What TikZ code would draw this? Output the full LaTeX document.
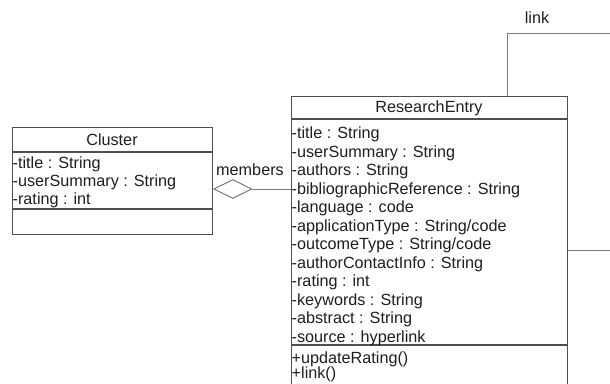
\documentclass[tikz,border=0pt]{standalone}
\usepackage{fontspec}
\setmainfont{Liberation Sans}
\usetikzlibrary{shapes.geometric}
\definecolor{edge}{HTML}{505050}
\definecolor{conn}{HTML}{7A7A7A}
\definecolor{ink}{HTML}{1E1E1E}
\begin{document}
\begin{tikzpicture}[x=1pt, y=-1pt,
  font=\fontsize{16.2}{18}\selectfont,
  classbox/.style={draw=edge, line width=1.3pt, inner sep=0pt, anchor=north west},
  sepline/.style={draw=edge, line width=1.1pt},
  row/.style={anchor=base west, inner sep=0pt, text=ink},
  title/.style={inner sep=0pt, text=ink},
  conn/.style={draw=conn, line width=1pt}]
\useasboundingbox (0,0) rectangle (610,383);
\clip (0,0) rectangle (610,383);

% ---- Cluster ----
\node[classbox, minimum width=200pt, minimum height=107pt] (cluster) at (12,127) {};
\draw[sepline] ([yshift=-25pt]cluster.north west) -- ([yshift=-25pt]cluster.north east);
\draw[sepline] ([yshift=-82pt]cluster.north west) -- ([yshift=-82pt]cluster.north east);
\node[title] (clustername) at (112,140) {Cluster};
\foreach \t [count=\i] in {-title : String, -userSummary : String, -rating : int}
  \node[row] (ca\i) at (12.5, {163+18*(\i-1)+5.5}) {\t};

% ---- ResearchEntry ----
\node[classbox, minimum width=276pt, minimum height=300pt] (re) at (291,96) {};
\draw[sepline] ([yshift=-23pt]re.north west) -- ([yshift=-23pt]re.north east);
\draw[sepline] ([yshift=-249pt]re.north west) -- ([yshift=-249pt]re.north east);
\node[title] (rename) at (429,108) {ResearchEntry};
\foreach \t [count=\i] in {-title : String, -userSummary : String, -authors : String,
    -bibliographicReference : String, -language : code, -applicationType : String/code,
    -outcomeType : String/code, -authorContactInfo : String, -rating : int,
    -keywords : String, -abstract : String, -source : hyperlink}
  \node[row] (ra\i) at (291.5, {133+18.5*(\i-1)+5.5}) {\t};
\node[row] (rm1) at (291.5, {357.5+5.5}) {+updateRating()};
\node[row] (rm2) at (291.5, {373+5}) {+link()};

% ---- aggregation: members ----
\coordinate (aggy) at (0,189);
\node[diamond, conn, fill=white, aspect=2, minimum width=38pt, minimum height=19pt,
      inner sep=0pt, anchor=west] (agg) at (cluster.east |- aggy) {};
\draw[conn] (agg.east) -- (re.west |- agg.east);
\node[title] (members) at (250,170) {members};

% ---- link association ----
\coordinate (linkturn) at (507,33);
\coordinate (linkend) at (610,33);
\draw[conn] (re.north -| linkturn) -- (linkturn) -- (linkend);
\node[title] (linklabel) at (537,18) {link};

% ---- association leaving to the right ----
\coordinate (outend) at (610,250);
\draw[conn] (re.east |- outend) -- (outend);
\end{tikzpicture}
\end{document}
